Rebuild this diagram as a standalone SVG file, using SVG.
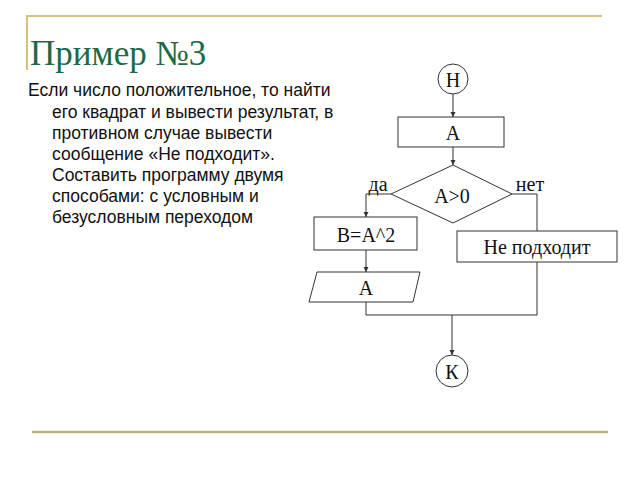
<svg xmlns="http://www.w3.org/2000/svg" width="640" height="480" viewBox="0 0 640 480">
<defs>
<style>
.rule{stroke:#d2c27e;stroke-width:2;fill:none}
.rule2{stroke:#bdb380;stroke-width:2.5;fill:none}
.title{font-family:"Liberation Serif",serif;font-size:35px;fill:#1d6a45}
.body{font-family:"Liberation Sans",Arial,sans-serif;font-size:17.5px;fill:#111}
.shape{fill:#fff;stroke:#333;stroke-width:1}
.lbl{font-family:"Liberation Serif","Times New Roman",serif;font-size:20px;fill:#111;text-anchor:middle;dominant-baseline:central}
.conn{stroke:#333;stroke-width:1;fill:none}
</style>
<marker id="arr" markerWidth="6" markerHeight="6" refX="5" refY="3" orient="auto" markerUnits="userSpaceOnUse">
<path d="M0,0.5 L5,3 L0,5.5 Z" fill="#333"/>
</marker>
</defs>
<rect width="640" height="480" fill="#fff"/>
<path class="rule" d="M27,70 V16 H602"/>
<line class="rule2" x1="32" y1="432" x2="608" y2="432"/>
<text class="title" x="30" y="65">Пример №3</text>
<g class="body">
<text x="28" y="96">Если число положительное, то найти</text>
<text x="52" y="118">его квадрат и вывести результат, в</text>
<text x="52" y="139">противном случае вывести</text>
<text x="52" y="160">сообщение «Не подходит».</text>
<text x="52" y="181">Составить программу двумя</text>
<text x="52" y="202">способами: с условным и</text>
<text x="52" y="223">безусловным переходом</text>
</g>
<g id="connectors">
<line class="conn" x1="453" y1="94" x2="453" y2="117" marker-end="url(#arr)"/>
<line class="conn" x1="453" y1="147" x2="453" y2="165" marker-end="url(#arr)"/>
<polyline class="conn" points="391,194 366,194 366,217" marker-end="url(#arr)"/>
<polyline class="conn" points="512,194 537,194 537,231"/>
<line class="conn" x1="366" y1="250" x2="366" y2="272" marker-end="url(#arr)"/>
<polyline class="conn" points="366,302 366,315 537,315 537,262"/>
<line class="conn" x1="452" y1="315" x2="452" y2="355" marker-end="url(#arr)"/>
</g>
<g id="start"><circle class="shape" cx="453" cy="79" r="15"/><text class="lbl" x="453" y="80">Н</text></g>
<g id="input"><rect class="shape" x="398" y="117" width="106" height="30"/><text class="lbl" x="453" y="133">A</text></g>
<g id="cond"><polygon class="shape" points="453,165 512,194 453,223 391,194"/><text class="lbl" x="452" y="196">A&gt;0</text></g>
<g id="yes"><text class="lbl" x="378" y="184">да</text></g>
<g id="no"><text class="lbl" x="530" y="184">нет</text></g>
<g id="calc"><rect class="shape" x="314" y="217" width="103" height="33"/><text class="lbl" x="366" y="235">B=A^2</text></g>
<g id="output"><polygon class="shape" points="317,272 420,272 413,302 309,302"/><text class="lbl" x="366" y="288">A</text></g>
<g id="msg"><rect class="shape" x="457" y="231" width="160" height="31"/><text class="lbl" x="537" y="247">Не подходит</text></g>
<g id="end"><circle class="shape" cx="452" cy="371" r="16"/><text class="lbl" x="452" y="372">К</text></g>
</svg>
